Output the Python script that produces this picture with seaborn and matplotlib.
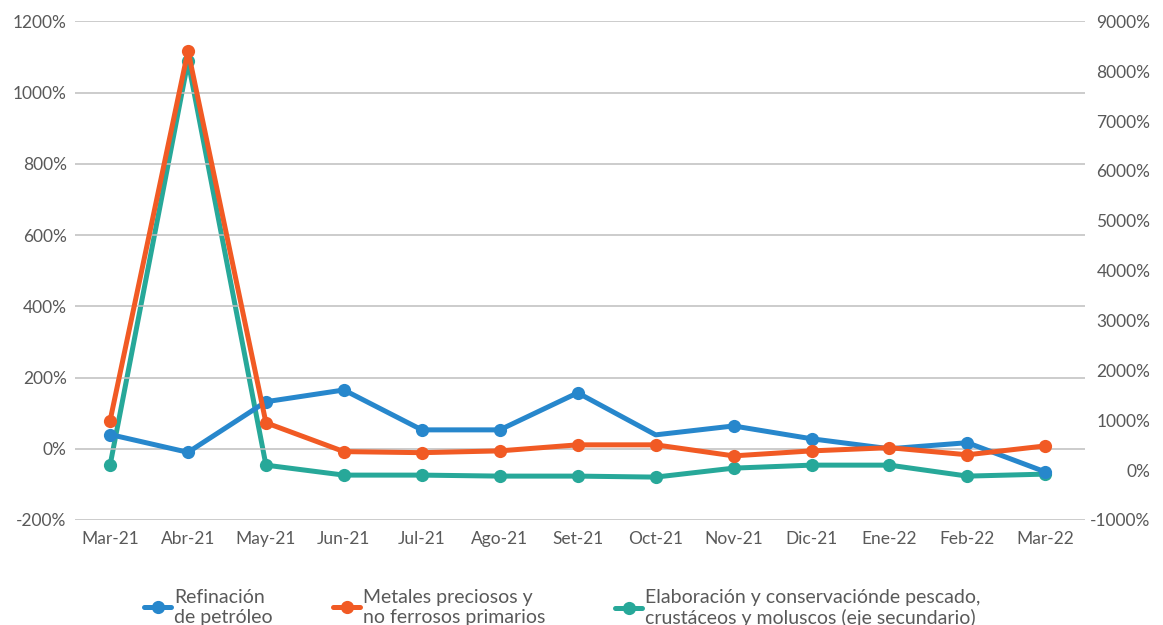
import pandas as pd
import matplotlib
matplotlib.use("Agg")
import matplotlib.pyplot as plt
import seaborn as sns
from matplotlib.ticker import FuncFormatter, MultipleLocator

months = ["Mar-21", "Abr-21", "May-21", "Jun-21", "Jul-21", "Ago-21", "Set-21",
          "Oct-21", "Nov-21", "Dic-21", "Ene-22", "Feb-22", "Mar-22"]

# % variation, left axis
refinacion = [40, -10, 132, 165, 53, 53, 157, 39, 64, 28, 0, 17, -65]
metales = [79, 1117, 73, -8, -11, -6, 11, 11, -20, -6, 3, -17, 8]
# % variation, right (secondary) axis
pescado = [100, 8200, 100, -100, -100, -120, -120, -140, 40, 100, 100, -120, -80]

lbl_ref = "Refinación\nde petróleo"
lbl_met = "Metales preciosos y\nno ferrosos primarios"
lbl_pes = "Elaboración y conservaciónde pescado,\ncrustáceos y moluscos (eje secundario)"

BLUE = "#2787cc"
ORANGE = "#f15a24"
TEAL = "#27a899"
GREY = "#595959"

df = pd.DataFrame({"x": range(len(months)), "ref": refinacion,
                   "met": metales, "pes": pescado})

sns.set_theme(style="white")
plt.rcParams["font.family"] = ["Lato", "DejaVu Sans"]

W = 1163
fig = plt.figure(figsize=(11.63, 6.25), dpi=100)
ax = fig.add_axes([0.0645, 0.168, 0.8685, 0.798])
ax2 = ax.twinx()
# secondary series sits underneath the primary ones
ax2.set_zorder(ax.get_zorder() - 1)
ax.patch.set_visible(False)

lw, ms = 3.6, 9.5
sns.lineplot(data=df, x="x", y="pes", ax=ax2, color=TEAL, linewidth=lw,
             marker="o", markersize=ms, markeredgewidth=0, sort=False,
             label=lbl_pes, legend=False)
sns.lineplot(data=df, x="x", y="ref", ax=ax, color=BLUE, linewidth=lw,
             marker="o", markersize=ms, markeredgewidth=0, sort=False,
             markevery=[0, 1, 2, 3, 4, 5, 6, 8, 9, 11, 12],
             label=lbl_ref, legend=False)
sns.lineplot(data=df, x="x", y="met", ax=ax, color=ORANGE, linewidth=lw,
             marker="o", markersize=ms, markeredgewidth=0, sort=False,
             label=lbl_met, legend=False)

ax.set_xlim(-0.45, 12.51)
ax.set_ylim(-200, 1200)
ax2.set_ylim(-1000, 9000)
ax.yaxis.set_major_locator(MultipleLocator(200))
ax2.yaxis.set_major_locator(MultipleLocator(1000))
pct = FuncFormatter(lambda v, p: f"{v:.0f}%")
ax.yaxis.set_major_formatter(pct)
ax2.yaxis.set_major_formatter(pct)

ax.set_xticks(range(len(months)))
ax.set_xticklabels(months)
ax.set_xlabel("")
ax.set_ylabel("")
ax2.set_ylabel("")

ax.grid(axis="y", color="#bfbfbf", linewidth=1.1)
ax.grid(axis="x", visible=False)
ax2.grid(False)
for a in (ax, ax2):
    for s in a.spines.values():
        s.set_visible(False)
    a.tick_params(length=0, labelsize=12.5, labelcolor=GREY)
ax.tick_params(axis="y", pad=6)
ax.tick_params(axis="x", pad=8)
# right-axis labels are right-aligned at the figure edge
ax2.tick_params(axis="y", pad=47)
for t in ax2.get_yticklabels():
    t.set_horizontalalignment("right")

# three legend entries, placed one by one
handles = [ax.get_lines()[0], ax.get_lines()[1], ax2.get_lines()[0]]
labels = [lbl_ref, lbl_met, lbl_pes]
xpos = [144, 333, 615]
for h, l, xp in zip(handles, labels, xpos):
    fig.legend([h], [l], loc="upper left", bbox_to_anchor=(xp / W, 0.058),
               frameon=False, handlelength=1.4, handletextpad=0.15,
               borderpad=0, borderaxespad=0, labelspacing=0,
               prop={"size": 14}, labelcolor=GREY)

fig.savefig("out.png", dpi=100)
